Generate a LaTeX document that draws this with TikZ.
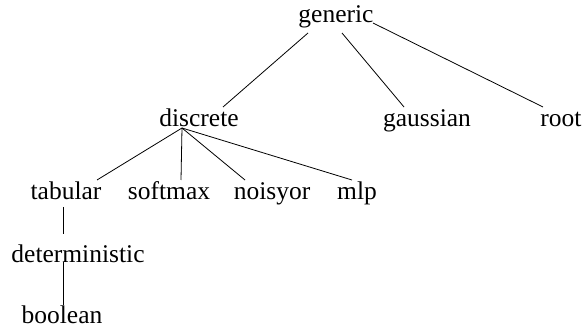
\documentclass[tikz,border=0pt]{standalone}
\usepackage{fontspec}
\setmainfont{Liberation Serif}
\begin{document}
\begin{tikzpicture}[x=1pt,y=-1pt,
  lbl/.style={anchor=base,inner sep=0pt,font=\fontsize{25.5}{30}\selectfont},
  edge/.style={line width=0.8pt}]
\useasboundingbox (0,0) rectangle (585,328);
\node[lbl] (generic) at (336,23) {generic};
\node[lbl] (discrete) at (199,127) {discrete};
\node[lbl] (gaussian) at (427,127) {gaussian};
\node[lbl] (root) at (561,127) {root};
\node[lbl] (tabular) at (66,200) {tabular};
\node[lbl] (softmax) at (169,200) {softmax};
\node[lbl] (noisyor) at (272,200) {noisyor};
\node[lbl] (mlp) at (357,200) {mlp};
\node[lbl] (deterministic) at (78,262) {deterministic};
\node[lbl] (boolean) at (62,323.5) {boolean};
\draw[edge] ([shift={(-28,10)}]generic.base) -- ([shift={(24,-20)}]discrete.base);
\draw[edge] ([shift={(6,10)}]generic.base) -- ([shift={(-23,-20)}]gaussian.base);
\draw[edge] ([shift={(37,0)}]generic.base) -- ([shift={(-18,-20)}]root.base);
\draw[edge] ([shift={(-17,1)}]discrete.base) -- ([shift={(31,-20)}]tabular.base);
\draw[edge] ([shift={(-17,1)}]discrete.base) -- ([shift={(12,-20)}]softmax.base);
\draw[edge] ([shift={(-17,1)}]discrete.base) -- ([shift={(-27,-20)}]noisyor.base);
\draw[edge] ([shift={(-17,1)}]discrete.base) -- ([shift={(-5,-20)}]mlp.base);
\draw[edge] ([shift={(-3,7)}]tabular.base) -- ([shift={(-15,-28)}]deterministic.base);
\draw[edge] ([shift={(-15,0)}]deterministic.base) -- ([shift={(1,-18.5)}]boolean.base);
\end{tikzpicture}
\end{document}
